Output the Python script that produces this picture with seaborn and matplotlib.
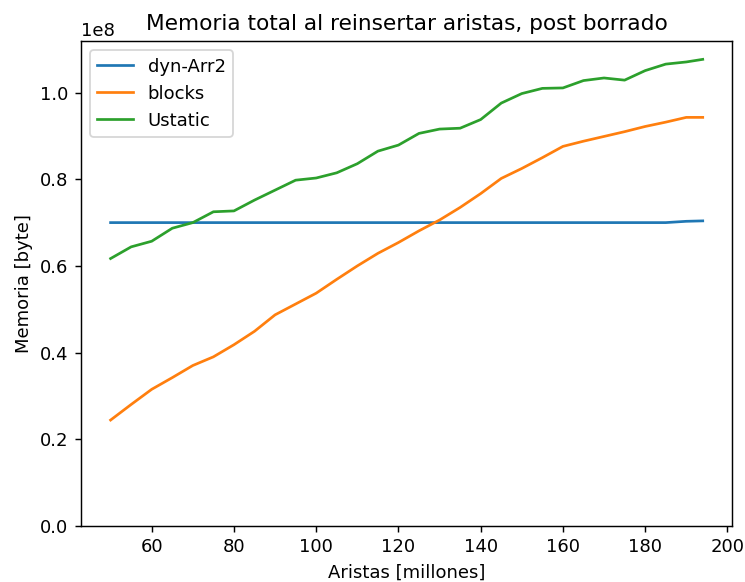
import pandas as pd
import numpy as np
import seaborn as sns
import matplotlib
matplotlib.use("Agg")
import matplotlib.pyplot as plt

## Aristas (millones) en el eje x
aristas = [50, 55, 60, 65, 70, 75, 80, 85, 90, 95, 100, 105, 110, 115, 120,
           125, 130, 135, 140, 145, 150, 155, 160, 165, 170, 175, 180, 185, 190, 194]

## Memoria en unidades de 1e8 bytes
dyn_arr2 = [0.700, 0.700, 0.700, 0.700, 0.700, 0.700, 0.700, 0.700, 0.700, 0.700,
            0.700, 0.700, 0.700, 0.700, 0.700, 0.700, 0.700, 0.700, 0.700, 0.700,
            0.700, 0.700, 0.700, 0.700, 0.700, 0.700, 0.700, 0.700, 0.703, 0.704]
blocks = [0.244, 0.280, 0.315, 0.342, 0.370, 0.390, 0.418, 0.449, 0.487, 0.512,
          0.537, 0.569, 0.600, 0.629, 0.654, 0.681, 0.706, 0.735, 0.767, 0.802,
          0.825, 0.850, 0.876, 0.888, 0.899, 0.910, 0.922, 0.932, 0.943, 0.943]
ustatic = [0.617, 0.644, 0.657, 0.687, 0.700, 0.725, 0.727, 0.752, 0.775, 0.798,
           0.803, 0.815, 0.836, 0.865, 0.879, 0.906, 0.916, 0.918, 0.938, 0.976,
           0.998, 1.010, 1.011, 1.028, 1.034, 1.029, 1.051, 1.066, 1.071, 1.077]

series = {'dyn-Arr2': dyn_arr2, 'blocks': blocks, 'Ustatic': ustatic}

tb = pd.concat([
    pd.DataFrame({'aristas': aristas, 'memoria': np.array(v) * 1e8, 'estructura': k})
    for k, v in series.items()
], ignore_index=True)

fig = plt.figure(figsize=(745 / 130, 582 / 130), dpi=130)
ax = fig.add_axes([0.1087, 0.0967, 0.983 - 0.1087, 0.929 - 0.0967])

sns.lineplot(data=tb, x='aristas', y='memoria', hue='estructura',
             palette=['#1f77b4', '#ff7f0e', '#2ca02c'], ax=ax)

ax.set_ylim(bottom=0)
ax.set_title('Memoria total al reinsertar aristas, post borrado')
ax.set_xlabel('Aristas [millones]')
ax.set_ylabel('Memoria [byte]')
handles, labels = ax.get_legend_handles_labels()
ax.legend(handles, labels, loc='upper left')

plt.savefig('out.png', dpi=130)
